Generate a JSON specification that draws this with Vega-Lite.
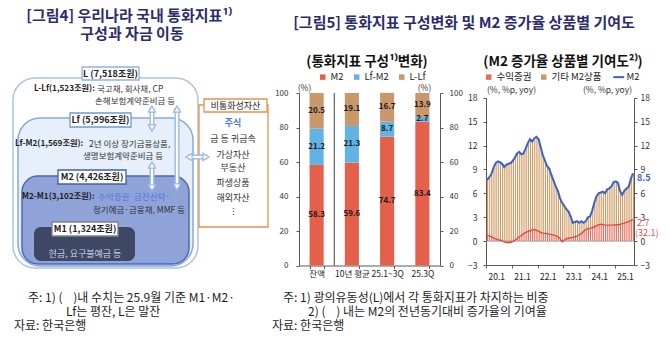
{
  "$schema": "https://vega.github.io/schema/vega-lite/v6.json",
  "width": 670,
  "height": 345,
  "autosize": {"type": "none"},
  "padding": 0,
  "background": "white",
  "config": {
    "view": {"stroke": null},
    "font": "Noto Sans CJK KR",
    "axis": {"grid": false, "domainColor": "#595959", "tickColor": "#595959", "labelColor": "#333333", "titleColor": "#333333", "labelFont": "Noto Sans CJK KR", "titleFont": "Noto Sans CJK KR"},
    "legend": {"padding": 0, "labelFont": "Noto Sans CJK KR", "labelColor": "#222222"}
  },
  "datasets": {
    "boxes": [
      {"role": "L", "x": 13, "x2": 198, "y": 78, "y2": 268},
      {"role": "Lf", "x": 18, "x2": 193, "y": 118, "y2": 266},
      {"role": "M2", "x": 22, "x2": 189, "y": 176, "y2": 264},
      {"role": "M1", "x": 34, "x2": 135, "y": 227, "y2": 261},
      {"role": "nonmon", "x": 199, "x2": 268, "y": 105, "y2": 227},
      {"role": "nonmonTag", "x": 204, "x2": 267, "y": 99, "y2": 112},
      {"role": "tagL", "x": 82, "x2": 139, "y": 67, "y2": 80},
      {"role": "tagLf", "x": 70, "x2": 131, "y": 113, "y2": 127},
      {"role": "tagM2", "x": 58, "x2": 126, "y": 170, "y2": 184},
      {"role": "tagM1", "x": 52, "x2": 118, "y": 222, "y2": 236}
    ],
    "arrows": [
      {"x": 152, "y": 108, "x2": 152, "y2": 129},
      {"x": 152, "y": 164, "x2": 152, "y2": 189},
      {"x": 177, "y": 108, "x2": 177, "y2": 188},
      {"x": 188, "y": 157, "x2": 207, "y2": 157}
    ],
    "heads": [
      {"x": 152, "y": 109, "dir": "up"}, {"x": 152, "y": 128, "dir": "down"},
      {"x": 152, "y": 165, "dir": "up"}, {"x": 152, "y": 188, "dir": "down"},
      {"x": 177, "y": 109, "dir": "up"}, {"x": 177, "y": 187, "dir": "down"},
      {"x": 189, "y": 157, "dir": "left"}, {"x": 206, "y": 157, "dir": "right"}
    ],
    "texts": [
      {"g": "title", "role": "navy", "t": "[그림4] 우리나라 국내 통화지표¹⁾", "x": 129, "y": 16},
      {"g": "title", "role": "navy", "t": "구성과 자금 이동", "x": 132, "y": 34},
      {"g": "title", "role": "navy", "t": "[그림5] 통화지표 구성변화 및 M2 증가율 상품별 기여도", "x": 464, "y": 23},
      {"g": "sub", "role": "black", "t": "(통화지표 구성¹⁾변화)", "x": 367, "y": 62},
      {"g": "sub", "role": "black", "t": "(M2 증가율 상품별 기여도²⁾)", "x": 563, "y": 62},
      {"g": "tag", "role": "dark", "t": "L (7,518조원)", "x": 110.5, "y": 73.5},
      {"g": "tag", "role": "dark", "t": "Lf (5,996조원)", "x": 100.5, "y": 120},
      {"g": "tag", "role": "dark", "t": "M2 (4,426조원)", "x": 92, "y": 177},
      {"g": "tag", "role": "dark", "t": "M1 (1,324조원)", "x": 85, "y": 229},
      {"g": "pre", "role": "dark", "t": "L-Lf(1,523조원):", "x": 34, "y": 89},
      {"g": "pre", "role": "dark", "t": "Lf-M2(1,569조원):", "x": 15, "y": 144},
      {"g": "pre", "role": "dark", "t": "M2-M1(3,102조원):", "x": 22, "y": 197},
      {"g": "body", "role": "body", "t": "국고채, 회사채, CP", "x": 97, "y": 89},
      {"g": "body", "role": "body", "t": "손해보험계약준비금 등", "x": 95, "y": 101},
      {"g": "body", "role": "body", "t": "2년 이상 장기금융상품,", "x": 89, "y": 144},
      {"g": "body", "role": "body", "t": "생명보험계약준비금 등", "x": 83, "y": 156},
      {"g": "body", "role": "blue", "t": "수익증권·금전신탁·", "x": 98, "y": 197},
      {"g": "body", "role": "body", "t": "정기예금·금융채, MMF 등", "x": 93, "y": 210},
      {"g": "center", "role": "light", "t": "현금, 요구불예금 등", "x": 85, "y": 254},
      {"g": "center", "role": "dark", "t": "비통화성자산", "x": 235.5, "y": 105.5},
      {"g": "centerb", "role": "blue", "t": "주식", "x": 233, "y": 123},
      {"g": "center", "role": "body", "t": "금 등 귀금속", "x": 233, "y": 139},
      {"g": "center", "role": "body", "t": "가상자산", "x": 233, "y": 155},
      {"g": "center", "role": "body", "t": "부동산", "x": 233, "y": 168},
      {"g": "center", "role": "body", "t": "파생상품", "x": 233, "y": 183},
      {"g": "center", "role": "body", "t": "해외자산", "x": 233, "y": 198},
      {"g": "center", "role": "body", "t": "⋮", "x": 233, "y": 212},
      {"g": "foot", "role": "dark", "t": "주: 1) (\u00a0\u00a0\u00a0\u00a0)내 수치는 25.9월 기준 M1·M2·", "x": 28, "y": 298},
      {"g": "foot", "role": "dark", "t": "Lf는 평잔, L은 말잔", "x": 66, "y": 312},
      {"g": "foot", "role": "dark", "t": "자료: 한국은행", "x": 14, "y": 326},
      {"g": "foot", "role": "dark", "t": "주: 1) 광의유동성(L)에서 각 통화지표가 차지하는 비중", "x": 283, "y": 298},
      {"g": "foot", "role": "dark", "t": "2) (\u00a0\u00a0\u00a0\u00a0) 내는 M2의 전년동기대비 증가율의 기여율", "x": 308, "y": 312},
      {"g": "foot", "role": "dark", "t": "자료: 한국은행", "x": 272, "y": 326}
    ],
    "comp": [
      {"cat": "잔액", "s": "M2", "v": 58.3}, {"cat": "잔액", "s": "Lf-M2", "v": 21.2}, {"cat": "잔액", "s": "L-Lf", "v": 20.5},
      {"cat": "10년 평균", "s": "M2", "v": 59.6}, {"cat": "10년 평균", "s": "Lf-M2", "v": 21.3}, {"cat": "10년 평균", "s": "L-Lf", "v": 19.1},
      {"cat": "25.1~3Q", "s": "M2", "v": 74.7}, {"cat": "25.1~3Q", "s": "Lf-M2", "v": 8.7}, {"cat": "25.1~3Q", "s": "L-Lf", "v": 16.7},
      {"cat": "25.3Q", "s": "M2", "v": 83.4}, {"cat": "25.3Q", "s": "Lf-M2", "v": 2.7}, {"cat": "25.3Q", "s": "L-Lf", "v": 13.9}
    ],
    "m2": [
      {"d": "2020-01-15", "M2": 7.7, "수익증권": 0.75, "기타 M2상품": 6.95},
      {"d": "2020-02-15", "M2": 8.0, "수익증권": 0.65, "기타 M2상품": 7.35},
      {"d": "2020-03-15", "M2": 8.4, "수익증권": 0.55, "기타 M2상품": 7.85},
      {"d": "2020-04-15", "M2": 9.2, "수익증권": 0.40, "기타 M2상품": 8.80},
      {"d": "2020-05-15", "M2": 9.8, "수익증권": 0.27, "기타 M2상품": 9.53},
      {"d": "2020-06-15", "M2": 10.0, "수익증권": 0.18, "기타 M2상품": 9.82},
      {"d": "2020-07-15", "M2": 9.9, "수익증권": 0.12, "기타 M2상품": 9.78},
      {"d": "2020-08-15", "M2": 9.7, "수익증권": 0.02, "기타 M2상품": 9.68},
      {"d": "2020-09-15", "M2": 9.3, "수익증권": -0.10, "기타 M2상품": 9.40},
      {"d": "2020-10-15", "M2": 9.6, "수익증권": -0.17, "기타 M2상품": 9.77},
      {"d": "2020-11-15", "M2": 9.7, "수익증권": -0.18, "기타 M2상품": 9.88},
      {"d": "2020-12-15", "M2": 9.8, "수익증권": -0.17, "기타 M2상품": 9.97},
      {"d": "2021-01-15", "M2": 10.1, "수익증권": -0.05, "기타 M2상품": 10.15},
      {"d": "2021-02-15", "M2": 10.5, "수익증권": 0.12, "기타 M2상품": 10.38},
      {"d": "2021-03-15", "M2": 11.0, "수익증권": 0.30, "기타 M2상품": 10.70},
      {"d": "2021-04-15", "M2": 11.2, "수익증권": 0.55, "기타 M2상품": 10.65},
      {"d": "2021-05-15", "M2": 10.9, "수익증권": 0.70, "기타 M2상품": 10.20},
      {"d": "2021-06-15", "M2": 11.0, "수익증권": 0.90, "기타 M2상품": 10.10},
      {"d": "2021-07-15", "M2": 11.6, "수익증권": 1.10, "기타 M2상품": 10.50},
      {"d": "2021-08-15", "M2": 12.3, "수익증권": 1.20, "기타 M2상품": 11.10},
      {"d": "2021-09-15", "M2": 12.8, "수익증권": 1.30, "기타 M2상품": 11.50},
      {"d": "2021-10-15", "M2": 12.5, "수익증권": 1.40, "기타 M2상품": 11.10},
      {"d": "2021-11-15", "M2": 12.9, "수익증권": 1.45, "기타 M2상품": 11.45},
      {"d": "2021-12-15", "M2": 13.1, "수익증권": 1.35, "기타 M2상품": 11.75},
      {"d": "2022-01-15", "M2": 12.8, "수익증권": 1.25, "기타 M2상품": 11.55},
      {"d": "2022-02-15", "M2": 11.8, "수익증권": 1.10, "기타 M2상품": 10.70},
      {"d": "2022-03-15", "M2": 10.8, "수익증권": 1.00, "기타 M2상품": 9.80},
      {"d": "2022-04-15", "M2": 10.1, "수익증권": 0.97, "기타 M2상품": 9.13},
      {"d": "2022-05-15", "M2": 9.4, "수익증권": 0.93, "기타 M2상품": 8.47},
      {"d": "2022-06-15", "M2": 9.1, "수익증권": 0.88, "기타 M2상품": 8.22},
      {"d": "2022-07-15", "M2": 8.3, "수익증권": 0.84, "기타 M2상품": 7.46},
      {"d": "2022-08-15", "M2": 7.6, "수익증권": 0.75, "기타 M2상품": 6.85},
      {"d": "2022-09-15", "M2": 6.9, "수익증권": 0.68, "기타 M2상품": 6.22},
      {"d": "2022-10-15", "M2": 6.3, "수익증권": 0.55, "기타 M2상품": 5.75},
      {"d": "2022-11-15", "M2": 5.4, "수익증권": 0.33, "기타 M2상품": 5.07},
      {"d": "2022-12-15", "M2": 4.8, "수익증권": -0.08, "기타 M2상품": 4.88},
      {"d": "2023-01-15", "M2": 4.4, "수익증권": 0.10, "기타 M2상품": 4.30},
      {"d": "2023-02-15", "M2": 4.0, "수익증권": 0.30, "기타 M2상품": 3.70},
      {"d": "2023-03-15", "M2": 3.7, "수익증권": 0.35, "기타 M2상품": 3.35},
      {"d": "2023-04-15", "M2": 3.1, "수익증권": 0.42, "기타 M2상품": 2.68},
      {"d": "2023-05-15", "M2": 2.3, "수익증권": 0.46, "기타 M2상품": 1.84},
      {"d": "2023-06-15", "M2": 2.4, "수익증권": 0.55, "기타 M2상품": 1.85},
      {"d": "2023-07-15", "M2": 2.5, "수익증권": 0.62, "기타 M2상품": 1.88},
      {"d": "2023-08-15", "M2": 2.3, "수익증권": 0.80, "기타 M2상품": 1.50},
      {"d": "2023-09-15", "M2": 2.5, "수익증권": 0.96, "기타 M2상품": 1.54},
      {"d": "2023-10-15", "M2": 2.3, "수익증권": 1.20, "기타 M2상품": 1.10},
      {"d": "2023-11-15", "M2": 2.5, "수익증권": 1.45, "기타 M2상품": 1.05},
      {"d": "2023-12-15", "M2": 3.0, "수익증권": 1.55, "기타 M2상품": 1.45},
      {"d": "2024-01-15", "M2": 3.1, "수익증권": 1.60, "기타 M2상품": 1.50},
      {"d": "2024-02-15", "M2": 3.8, "수익증권": 1.70, "기타 M2상품": 2.10},
      {"d": "2024-03-15", "M2": 4.8, "수익증권": 1.80, "기타 M2상품": 3.00},
      {"d": "2024-04-15", "M2": 5.6, "수익증권": 1.90, "기타 M2상품": 3.70},
      {"d": "2024-05-15", "M2": 6.0, "수익증권": 2.05, "기타 M2상품": 3.95},
      {"d": "2024-06-15", "M2": 6.1, "수익증권": 2.13, "기타 M2상품": 3.97},
      {"d": "2024-07-15", "M2": 6.2, "수익증권": 2.05, "기타 M2상품": 4.15},
      {"d": "2024-08-15", "M2": 6.0, "수익증권": 2.00, "기타 M2상품": 4.00},
      {"d": "2024-09-15", "M2": 6.5, "수익증권": 2.00, "기타 M2상품": 4.50},
      {"d": "2024-10-15", "M2": 6.6, "수익증권": 2.00, "기타 M2상품": 4.60},
      {"d": "2024-11-15", "M2": 6.9, "수익증권": 2.00, "기타 M2상품": 4.90},
      {"d": "2024-12-15", "M2": 7.4, "수익증권": 2.00, "기타 M2상품": 5.40},
      {"d": "2025-01-15", "M2": 7.5, "수익증권": 2.05, "기타 M2상품": 5.45},
      {"d": "2025-02-15", "M2": 7.3, "수익증권": 2.05, "기타 M2상품": 5.25},
      {"d": "2025-03-15", "M2": 6.3, "수익증권": 2.10, "기타 M2상품": 4.20},
      {"d": "2025-04-15", "M2": 5.8, "수익증권": 2.20, "기타 M2상품": 3.60},
      {"d": "2025-05-15", "M2": 6.3, "수익증권": 2.25, "기타 M2상품": 4.05},
      {"d": "2025-06-15", "M2": 6.6, "수익증권": 2.35, "기타 M2상품": 4.25},
      {"d": "2025-07-15", "M2": 6.8, "수익증권": 2.45, "기타 M2상품": 4.35},
      {"d": "2025-08-15", "M2": 7.8, "수익증권": 2.60, "기타 M2상품": 5.20},
      {"d": "2025-09-15", "M2": 8.5, "수익증권": 2.70, "기타 M2상품": 5.80}
    ],
    "ends": [
      {"d": "2025-09-15", "v": 8.5, "lab": "8.5", "k": "m2"},
      {"d": "2025-09-15", "v": 2.7, "lab": "2.7", "k": "sec"},
      {"d": "2025-09-15", "v": 2.7, "lab": "(32.1)", "k": "share"}
    ]
  },
  "resolve": {"scale": {"x": "independent", "y": "independent", "color": "independent"}},
  "layer": [
    {
      "layer": [
        {
          "data": {"name": "boxes"},
          "encoding": {
            "x": {"field": "x", "type": "quantitative", "scale": {"domain": [0, 670], "range": [0, 670], "nice": false, "zero": false}, "axis": null},
            "x2": {"field": "x2"},
            "y": {"field": "y", "type": "quantitative", "scale": {"domain": [0, 345], "range": [0, 345], "nice": false, "zero": false}, "axis": null},
            "y2": {"field": "y2"},
            "fill": {"field": "role", "type": "nominal", "legend": null, "scale": {"domain": ["L", "Lf", "M2", "M1", "nonmon", "nonmonTag", "tagL", "tagLf", "tagM2", "tagM1"], "range": ["#FFFFFF", "#E6EFFA", "#8FA3D9", "#3E4864", "#FFFFFF", "#FFFFFF", "#FFFFFF", "#FFFFFF", "#FFFFFF", "#FFFFFF"]}},
            "stroke": {"field": "role", "type": "nominal", "legend": null, "scale": {"domain": ["L", "Lf", "M2", "M1", "nonmon", "nonmonTag", "tagL", "tagLf", "tagM2", "tagM1"], "range": ["#A9C4E8", "#86A9DE", "#4C68B8", "#3E4864", "#E8914B", "#E8914B", "#8DB3E2", "#6F9AD6", "#3F5FB0", "#7A8194"]}}
          },
          "layer": [
            {"transform": [{"filter": {"field": "role", "oneOf": ["L", "Lf"]}}], "mark": {"type": "rect", "cornerRadius": 22, "strokeWidth": 1.5}},
            {"transform": [{"filter": {"field": "role", "equal": "M2"}}], "mark": {"type": "rect", "cornerRadius": 16, "strokeWidth": 1.5}},
            {"transform": [{"filter": {"field": "role", "equal": "M1"}}], "mark": {"type": "rect", "cornerRadius": 7, "strokeWidth": 0}},
            {"transform": [{"filter": {"field": "role", "oneOf": ["nonmon", "nonmonTag", "tagL", "tagLf", "tagM2", "tagM1"]}}], "mark": {"type": "rect", "strokeWidth": 1.3}}
          ]
        },
        {
          "data": {"name": "arrows"},
          "encoding": {
            "x": {"field": "x", "type": "quantitative", "scale": {"domain": [0, 670], "range": [0, 670], "nice": false, "zero": false}, "axis": null},
            "x2": {"field": "x2"},
            "y": {"field": "y", "type": "quantitative", "scale": {"domain": [0, 345], "range": [0, 345], "nice": false, "zero": false}, "axis": null},
            "y2": {"field": "y2"}
          },
          "layer": [
            {"mark": {"type": "rule", "strokeWidth": 5, "color": "#9CB9E4"}},
            {"mark": {"type": "rule", "strokeWidth": 2.2, "color": "#FFFFFF"}}
          ]
        },
        {
          "data": {"name": "heads"},
          "mark": {"type": "point", "filled": true, "size": 50, "fill": "#FFFFFF", "stroke": "#9CB9E4", "strokeWidth": 1.3, "opacity": 1},
          "encoding": {
            "x": {"field": "x", "type": "quantitative", "scale": {"domain": [0, 670], "range": [0, 670], "nice": false, "zero": false}, "axis": null},
            "y": {"field": "y", "type": "quantitative", "scale": {"domain": [0, 345], "range": [0, 345], "nice": false, "zero": false}, "axis": null},
            "shape": {"field": "dir", "type": "nominal", "legend": null, "scale": {"domain": ["up", "down", "left", "right"], "range": ["triangle-up", "triangle-down", "triangle-left", "triangle-right"]}}
          }
        },
        {
          "data": {"name": "texts"},
          "encoding": {
            "x": {"field": "x", "type": "quantitative", "scale": {"domain": [0, 670], "range": [0, 670], "nice": false, "zero": false}, "axis": null},
            "y": {"field": "y", "type": "quantitative", "scale": {"domain": [0, 345], "range": [0, 345], "nice": false, "zero": false}, "axis": null},
            "text": {"field": "t"},
            "color": {"field": "role", "type": "nominal", "legend": null, "scale": {"domain": ["navy", "black", "dark", "body", "blue", "light"], "range": ["#2B2C6E", "#111111", "#1E1E1E", "#333333", "#4B78DF", "#C9D0E2"]}}
          },
          "layer": [
            {"transform": [{"filter": {"field": "g", "equal": "title"}}], "mark": {"type": "text", "fontSize": 15, "fontWeight": "bold", "align": "center", "baseline": "middle"}},
            {"transform": [{"filter": {"field": "g", "equal": "sub"}}], "mark": {"type": "text", "fontSize": 13.5, "fontWeight": "bold", "align": "center", "baseline": "middle"}},
            {"transform": [{"filter": {"field": "g", "equal": "tag"}}], "mark": {"type": "text", "fontSize": 9, "fontWeight": "bold", "align": "center", "baseline": "middle"}},
            {"transform": [{"filter": {"field": "g", "equal": "pre"}}], "mark": {"type": "text", "fontSize": 8.2, "fontWeight": "bold", "align": "left", "baseline": "middle"}},
            {"transform": [{"filter": {"field": "g", "equal": "body"}}], "mark": {"type": "text", "fontSize": 8.5, "align": "left", "baseline": "middle"}},
            {"transform": [{"filter": {"field": "g", "equal": "center"}}], "mark": {"type": "text", "fontSize": 9, "align": "center", "baseline": "middle"}},
            {"transform": [{"filter": {"field": "g", "equal": "centerb"}}], "mark": {"type": "text", "fontSize": 9, "fontWeight": "bold", "align": "center", "baseline": "middle"}},
            {"transform": [{"filter": {"field": "g", "equal": "foot"}}], "mark": {"type": "text", "fontSize": 12, "align": "left", "baseline": "middle"}}
          ]
        }
      ]
    },
    {
      "data": {"name": "comp"},
      "encoding": {
        "x": {"field": "cat", "type": "nominal", "sort": ["잔액", "10년 평균", "25.1~3Q", "25.3Q"], "scale": {"range": [299, 440], "paddingInner": 0.6, "paddingOuter": 0.3},
          "axis": {"orient": "bottom", "offset": -79.5, "title": null, "labelAngle": 0, "labelFontSize": 8.5, "labelPadding": 1, "tickBand": "extent", "tickSize": 3, "labelColor": "#222222"}}
      },
      "layer": [
        {
          "mark": {"type": "bar"},
          "encoding": {
            "y": {"field": "v", "type": "quantitative", "stack": "zero", "scale": {"domain": [0, 100], "range": [265.5, 93], "nice": false},
              "axis": {"orient": "left", "offset": -299, "values": [0, 20, 40, 60, 80, 100], "title": "(%)", "titleAngle": 0, "titleX": 5, "titleY": 87, "titleAlign": "center", "titleBaseline": "middle", "titleFontSize": 8.5, "titleFontWeight": "normal", "labelFontSize": 8, "labelPadding": 8, "tickSize": 3}},
            "color": {"field": "s", "type": "nominal", "scale": {"domain": ["M2", "Lf-M2", "L-Lf"], "range": ["#E4604B", "#62B2E4", "#C9986A"]},
              "legend": {"orient": "none", "legendX": 318, "legendY": 72, "direction": "horizontal", "title": null, "symbolType": "square", "symbolSize": 30, "labelFontSize": 9.5, "columnPadding": 8, "labelOffset": 3}},
            "order": {"field": "s", "sort": "descending"}
          }
        },
        {
          "transform": [{"filter": "datum.cat === '잔액' && datum.s === 'M2'"}],
          "mark": {"type": "rule", "color": "#404040", "strokeWidth": 1},
          "encoding": {
            "x": {"field": "cat", "type": "nominal", "bandPosition": 1.75},
            "y": {"datum": 0},
            "y2": {"datum": 100}
          }
        }
      ]
    },
    {
      "data": {"name": "comp"},
      "transform": [
        {"stack": "v", "groupby": ["cat"], "sort": [{"field": "s", "order": "descending"}], "as": ["v0", "v1"]},
        {"calculate": "(datum.v0 + datum.v1) / 2", "as": "mid"}
      ],
      "mark": {"type": "text", "fontSize": 8, "fontWeight": "bold", "color": "#1A1A1A", "baseline": "middle"},
      "encoding": {
        "x": {"field": "cat", "type": "nominal", "sort": ["잔액", "10년 평균", "25.1~3Q", "25.3Q"], "scale": {"range": [299, 440], "paddingInner": 0.6, "paddingOuter": 0.3}, "axis": null},
        "y": {"field": "mid", "type": "quantitative", "scale": {"domain": [0, 100], "range": [265.5, 93], "nice": false},
          "axis": {"orient": "right", "offset": -230, "values": [0, 20, 40, 60, 80, 100], "title": "(%)", "titleAngle": 0, "titleX": -16, "titleY": 87, "titleAlign": "center", "titleBaseline": "middle", "titleFontSize": 8.5, "titleFontWeight": "normal", "labelFontSize": 8, "labelPadding": 6, "tickSize": 3}},
        "text": {"field": "v", "type": "quantitative", "format": ".1f"}
      }
    },
    {
      "data": {"name": "m2"},
      "layer": [
        {
          "transform": [{"fold": ["수익증권", "기타 M2상품"], "as": ["s", "v"]}],
          "mark": {"type": "bar", "timeUnitBandSize": 0.8, "timeUnitBandPosition": 0.1},
          "encoding": {
            "x": {"field": "d", "type": "temporal", "timeUnit": "yearmonth",
              "scale": {"domain": [{"year": 2020, "month": 1, "date": 1}, {"year": 2025, "month": 10, "date": 1}], "range": [486, 634]},
              "axis": {"orient": "bottom", "offset": -80, "title": null, "format": "%y.%-m", "formatType": "time",
                "values": [{"year": 2020, "month": 1, "date": 1}, {"year": 2021, "month": 1, "date": 1}, {"year": 2022, "month": 1, "date": 1}, {"year": 2023, "month": 1, "date": 1}, {"year": 2024, "month": 1, "date": 1}, {"year": 2025, "month": 1, "date": 1}],
                "labelAlign": "left", "labelOffset": 2, "labelFlush": false, "labelFontSize": 8.5, "labelPadding": 4, "tickSize": 3, "labelColor": "#222222"}},
            "y": {"field": "v", "type": "quantitative", "stack": "zero", "scale": {"domain": [-3, 18], "range": [265, 97.7], "nice": false, "zero": false},
              "axis": {"orient": "left", "offset": -486, "values": [-3, 0, 3, 6, 9, 12, 15, 18], "title": "(%, %p, yoy)", "titleAngle": 0, "titleX": 25, "titleY": 89, "titleAlign": "center", "titleBaseline": "middle", "titleFontSize": 8.5, "titleFontWeight": "normal", "labelFontSize": 8.5, "labelPadding": 6, "tickSize": 3}},
            "color": {"field": "s", "type": "nominal", "scale": {"domain": ["수익증권", "기타 M2상품", "M2"], "range": ["#EC6B5A", "#CF9A62", "#3B62C6"]},
              "legend": {"orient": "none", "legendX": 484, "legendY": 72, "direction": "horizontal", "title": null, "symbolSize": 30, "labelFontSize": 9.5, "columnPadding": 7, "labelOffset": 3,
                "encode": {"symbols": {"update": {
                  "shape": {"signal": "datum.value === 'M2' ? 'stroke' : 'square'"},
                  "fill": {"signal": "datum.value === '수익증권' ? '#E8553F' : datum.value === '기타 M2상품' ? '#CF9A62' : 'transparent'"},
                  "stroke": {"signal": "datum.value === 'M2' ? '#3B62C6' : 'transparent'"},
                  "strokeWidth": {"signal": "datum.value === 'M2' ? 2 : 0"},
                  "size": {"signal": "datum.value === 'M2' ? 120 : 30"}
                }}}}},
            "order": {"field": "s", "sort": "descending"}
          }
        },
        {
          "transform": [{"aggregate": [{"op": "count", "as": "n"}]}],
          "mark": {"type": "rule", "color": "#8C8C8C", "strokeWidth": 0.8},
          "encoding": {
            "x": {"datum": {"year": 2020, "month": 1, "date": 1}, "type": "temporal"},
            "x2": {"datum": {"year": 2025, "month": 10, "date": 1}},
            "y": {"datum": 0}
          }
        },
        {
          "mark": {"type": "line", "strokeWidth": 1.4, "color": "#E8473A"},
          "encoding": {
            "x": {"field": "d", "type": "temporal", "timeUnit": "yearmonth", "bandPosition": 0.5},
            "y": {"field": "수익증권", "type": "quantitative"}
          }
        },
        {
          "mark": {"type": "line", "strokeWidth": 2},
          "encoding": {
            "x": {"field": "d", "type": "temporal", "timeUnit": "yearmonth", "bandPosition": 0.5},
            "y": {"field": "M2", "type": "quantitative"},
            "color": {"datum": "M2", "type": "nominal"}
          }
        }
      ]
    },
    {
      "data": {"name": "ends"},
      "encoding": {
        "x": {"field": "d", "type": "temporal", "timeUnit": "yearmonth", "bandPosition": 0.5,
          "scale": {"domain": [{"year": 2020, "month": 1, "date": 1}, {"year": 2025, "month": 10, "date": 1}], "range": [486, 634]}, "axis": null},
        "y": {"field": "v", "type": "quantitative", "scale": {"domain": [-3, 18], "range": [265, 97.7], "nice": false, "zero": false},
          "axis": {"orient": "right", "offset": -36, "values": [-3, 0, 3, 6, 9, 12, 15, 18], "title": "(%, %p, yoy)", "titleAngle": 0, "titleX": -27, "titleY": 89, "titleAlign": "center", "titleBaseline": "middle", "titleFontSize": 8.5, "titleFontWeight": "normal", "labelFontSize": 8.5, "labelPadding": 3, "tickSize": 3}},
        "text": {"field": "lab"}
      },
      "layer": [
        {"transform": [{"filter": {"field": "k", "equal": "m2"}}], "mark": {"type": "text", "align": "left", "baseline": "middle", "dx": 4, "dy": 5, "fontSize": 9, "fontWeight": "bold", "color": "#3B62C6"}},
        {"transform": [{"filter": {"field": "k", "equal": "sec"}}], "mark": {"type": "text", "align": "left", "baseline": "middle", "dx": 4, "dy": 3, "fontSize": 9, "color": "#E8553F"}},
        {"transform": [{"filter": {"field": "k", "equal": "share"}}], "mark": {"type": "text", "align": "left", "baseline": "middle", "dx": 2, "dy": 13.5, "fontSize": 9, "color": "#E8553F"}}
      ]
    }
  ]
}
